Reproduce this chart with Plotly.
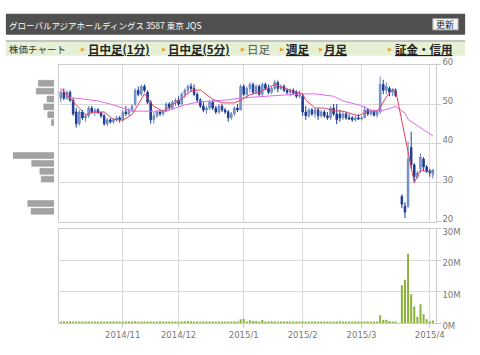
import plotly.graph_objects as go
import pandas as pd

W, H = 480, 355

# ---------------- data ----------------
holidays = ['2014-10-13', '2014-11-03', '2014-11-24', '2014-12-23', '2014-12-31',
            '2015-01-01', '2015-01-02', '2015-01-12', '2015-02-11']
dates = [d.strftime('%Y-%m-%d') for d in pd.bdate_range('2014-10-03', '2015-04-02')
         if d.strftime('%Y-%m-%d') not in holidays]

open_ = [51.5, 53, 51.5, 53, 51, 48, 45, 48, 46.5, 47, 49, 48, 48.5, 47.8, 47, 45, 46, 45.5, 46, 46.5,
         46, 48, 47.5, 48.5, 50, 53.5, 52.5, 54.5, 53, 50.5, 46, 47, 48, 47.5, 48.2, 50, 49, 50.5,
         51, 50, 52.5, 53.5, 54.5, 54, 52.5, 51, 49.5, 48.5, 49, 50.5, 49, 48, 49.5, 48.5, 48, 46.5, 47.5, 49, 48.5,
         54.5, 52.5, 54, 55, 53, 54.5, 52.5, 55, 54, 53, 54, 55.5, 54, 54.5, 53.5, 53, 53.5, 53, 52,
         52, 48, 47, 48.5, 47.5, 48.5, 47, 48, 47, 46.5, 49, 47.5, 47.5, 46.5, 47.5, 46.5, 46.5, 46, 46.5,
         46.2, 46.5, 48.5, 47.5, 48, 47.2, 48, 55, 53.5, 54, 53, 53.5, None,
         26.5, 24, 24, 39, 34.5, 31.5, 33.5, 36, 34, 33, 32]
high = [53.5, 54, 53.5, 53.5, 51.5, 49, 48.5, 48.5, 47.5, 49.5, 49.5, 49, 49, 48, 47.5, 46.5, 46.5, 46.5, 47, 47,
        48.5, 49.5, 49, 50, 54, 54.5, 55, 55, 53.5, 51, 48, 48.5, 48.5, 48.5, 50.5, 50.5, 51, 51.5,
        52, 53, 54, 55, 55.3, 55, 53, 51.5, 50.5, 49.5, 51, 51, 49.5, 50, 50, 49, 48.5, 48, 49.5, 50, 55,
        55, 54.5, 55.5, 55.5, 55, 55, 55.5, 55.5, 55, 54.5, 56.2, 56, 55, 55, 54, 54, 54, 53.5, 53.5,
        52.5, 49.5, 49, 49, 49, 49, 48.5, 48.5, 48, 49.5, 50, 50, 48.5, 48.2, 48, 47.5, 47, 47, 47.5,
        47, 49.5, 49, 48.5, 48.5, 48.5, 57, 56.2, 55.5, 54.5, 54, 54, None,
        27, 25, 40.5, 43, 35, 33, 37.5, 36.5, 34.5, 33.5, 33.5]
low = [50.5, 51, 51, 50.5, 47, 44, 44.5, 46, 45.5, 46.5, 47.5, 47, 47.5, 46.5, 44.5, 44.3, 45, 45, 45.5, 45.3,
       45.5, 47, 47, 48, 49.5, 52, 52, 53, 50, 45, 45, 46.5, 47, 47, 48, 48.5, 48.5, 49.5,
       49.5, 50, 51.5, 52.5, 53, 52, 50.5, 49, 48, 47.5, 48.5, 48.5, 47.5, 47.5, 48, 47.5, 45.5, 46, 47, 48, 48.5,
       52, 51.5, 53, 52.5, 52.5, 52, 52, 53.5, 52.5, 52.5, 53.5, 53, 53.5, 53, 52.5, 52, 52.5, 51.5, 51.5,
       47, 46, 46.5, 47, 46.5, 46, 46.5, 46.5, 46, 46, 47, 44.9, 45.5, 46, 46, 46, 45.5, 45.5, 46,
       45.8, 46.5, 47, 47, 46.8, 46.5, 47.5, 52.5, 52.5, 52, 52, 51.8, None,
       23.5, 21, 23.5, 33.5, 30, 31, 32.5, 33, 32.5, 31.5, 31]
close = [53, 51.5, 53, 51, 47.5, 45, 48, 46.5, 47, 49, 48, 48.5, 47.8, 47, 45, 46, 45.5, 46, 46.5, 46,
         48, 47.5, 48.5, 49.5, 53.5, 52.5, 54.5, 53.5, 50.5, 46, 47, 48, 47.5, 48.2, 50, 49, 50.5, 51,
         50, 52.5, 53.5, 54.5, 54, 52.5, 51, 49.5, 48.5, 49, 50.5, 49, 48, 49.5, 48.5, 48, 46.5, 47.5, 49, 48.5, 54.5,
         52.5, 54, 55, 53, 54.5, 52.5, 55, 54, 53, 54, 55.5, 54, 54.5, 53.5, 53, 53.5, 52.8, 52, 52.5,
         48, 47, 48.5, 47.5, 48.5, 47, 48, 47, 46.5, 49, 47.5, 46, 46.5, 47.5, 46.5, 46.2, 46, 46.5, 46.2,
         46.5, 48.5, 47.5, 48, 47.2, 48, 55, 53.5, 54.5, 53, 53.5, 52.2, None,
         24.5, 22.5, 36, 34.5, 31.5, 32.5, 36.5, 34, 33, 32.5, 33.2]
volume_m = [0.5, 0.6, 0.4, 0.6, 0.5, 0.4, 0.3, 0.3, 0.2, 0.3, 0.2, 0.2, 0.2, 0.2, 0.3, 0.2, 0.2, 0.2, 0.2, 0.2,
            0.3, 0.2, 0.2, 0.3, 0.6, 0.4, 0.5, 0.3, 0.3, 0.5, 0.3, 0.2, 0.2, 0.2, 0.3, 0.2, 0.2, 0.3,
            0.4, 0.5, 0.6, 0.7, 0.5, 0.4, 0.3, 0.3, 0.2, 0.2, 0.3, 0.2, 0.2, 0.2, 0.2, 0.2, 0.3, 0.2, 0.2, 0.5, 1.2,
            1.4, 0.5, 0.9, 0.7, 0.7, 0.4, 1.0, 0.5, 0.5, 0.6, 0.5, 0.4, 0.3, 0.3, 0.3, 0.2, 0.3, 0.3, 0.4,
            0.6, 0.5, 0.4, 0.3, 0.3, 0.3, 0.2, 0.3, 0.2, 0.3, 0.3, 0.5, 0.6, 0.5, 0.3, 0.3, 0.3, 0.3, 0.3,
            0.3, 0.3, 0.3, 0.3, 0.3, 0.4, 2.5, 1.0, 1.1, 0.7, 0.4, 0.3, 0,
            12, 13.8, 22, 9.2, 5.3, 2, 6, 2.8, 1.2, 0.6, 0.8]

ma5_dates = ['2014-10-03', '2014-10-07', '2014-10-16', '2014-10-20', '2014-10-24', '2014-10-29',
             '2014-11-04', '2014-11-07', '2014-11-13', '2014-11-18', '2014-11-21', '2014-11-27',
             '2014-12-02', '2014-12-05', '2014-12-10', '2014-12-16', '2014-12-19', '2014-12-26',
             '2014-12-30', '2015-01-07', '2015-01-13', '2015-01-20', '2015-01-26', '2015-02-02',
             '2015-02-03', '2015-02-06', '2015-02-12', '2015-02-17', '2015-02-20', '2015-02-27',
             '2015-03-04', '2015-03-09', '2015-03-10', '2015-03-12', '2015-03-16', '2015-03-17',
             '2015-03-25', '2015-03-27', '2015-03-31', '2015-04-02']
ma5_vals = [54, 52.3, 47.3, 47.9, 48.0, 46.1, 45.9, 47.3, 52.6, 49.4, 48.2, 49.8, 51.4, 53.4, 53.6,
            51.2, 50.3, 50.3, 51, 52.4, 53, 55, 53.8, 52.6, 51, 49, 49, 48.3, 48.2, 47, 48.2, 48.2,
            49.2, 51.8, 53.8, 53.5, 30, 33.2, 32.8, 32.8]
ma25_dates = ['2014-10-07', '2014-10-17', '2014-10-22', '2014-10-29', '2014-11-07', '2014-11-18',
              '2014-11-25', '2014-12-03', '2014-12-10', '2014-12-22', '2015-01-05', '2015-01-21',
              '2015-02-02', '2015-02-06', '2015-02-17', '2015-02-19', '2015-02-20', '2015-02-27',
              '2015-03-05', '2015-03-10', '2015-03-17', '2015-03-20', '2015-03-23', '2015-04-02']
ma25_vals = [51.8, 51.1, 50.8, 49.8, 48.2, 48.2, 48.2, 49.8, 50.6, 51, 51.6, 52.2, 52.6, 52.6, 52.0,
             51.2, 50.8, 49.8, 48.5, 48.2, 49.4, 47.7, 46.1, 41.9]

profile_price = [22.7, 24.7, 30.9, 32.9, 34.9, 36.9, 45.3, 47.3, 49.3, 51.3, 53.3, 55.3]
profile_vol = [14, 16, 7.8, 8.6, 13.6, 25, 1.6, 3.8, 6.2, 4.2, 10.8, 9.6]

month_dates = ['2014-11-04', '2014-12-01', '2015-01-05', '2015-02-02', '2015-03-02', '2015-04-01']
month_labels = ['2014/11', '2014/12', '2015/1', '2015/2', '2015/3', '2015/4']

price_ticks = [20, 30, 40, 50, 60]
vol_ticks = [0, 10, 20, 30]
vol_tick_labels = ['0M', '10M', '20M', '30M']

title = 'グローバルアジアホールディングス 3587 東京 JQS'
nav_items = ['日中足(1分)', '日中足(5分)', '日足', '週足', '月足', '証金・信用']

# ---------------- helpers ----------------
pos = {d: i for i, d in enumerate(dates)}
xi = list(range(len(dates)))


def px(x):
    return x / W


def py(y):
    return 1 - y / H


GRID = '#dadada'
LINE = '#cccccc'
TICKFONT = dict(family='DejaVu Sans', size=8.5, color='#777777')
JP = 'Noto Sans CJK JP'

fig = go.Figure()

fig.add_trace(go.Candlestick(
    x=xi, open=open_, high=high, low=low, close=close, xaxis='x', yaxis='y',
    increasing=dict(line=dict(color='#6887c2', width=1), fillcolor='#8ea8d6'),
    decreasing=dict(line=dict(color='#1d3c93', width=1), fillcolor='#1d3c93'),
    whiskerwidth=0, showlegend=False, hoverinfo='skip'))

fig.add_trace(go.Scatter(x=[pos[d] for d in ma25_dates], y=ma25_vals, mode='lines',
                         line=dict(color='#e06aee', width=1), xaxis='x', yaxis='y',
                         showlegend=False, hoverinfo='skip'))
fig.add_trace(go.Scatter(x=[pos[d] for d in ma5_dates], y=ma5_vals, mode='lines',
                         line=dict(color='#e5405f', width=1), xaxis='x', yaxis='y',
                         showlegend=False, hoverinfo='skip'))

fig.add_trace(go.Bar(x=xi, y=[v * 1e6 for v in volume_m], xaxis='x2', yaxis='y2',
                     marker=dict(color='#8ab33a', line_width=0), showlegend=False,
                     hoverinfo='skip'))

fig.add_trace(go.Bar(x=profile_vol, y=profile_price, orientation='h', width=1.5,
                     xaxis='x3', yaxis='y4',
                     marker=dict(color='#a3a3a3', line=dict(color='#979797', width=0.5)),
                     showlegend=False, hoverinfo='skip'))

xdom = [px(60), px(444)]
xrange_ = [-0.6, len(dates) - 0.1]
tickv = [pos[d] for d in month_dates]

fig.update_layout(
    width=W, height=H, margin=dict(l=0, r=0, t=0, b=0),
    paper_bgcolor='white', plot_bgcolor='white', bargap=0.35,
    xaxis=dict(domain=xdom, range=xrange_, anchor='y', tickvals=tickv, showticklabels=False,
               showgrid=True, gridcolor=GRID, gridwidth=1, showline=True, linecolor=LINE,
               mirror=True, zeroline=False, rangeslider=dict(visible=False), ticks=''),
    yaxis=dict(domain=[py(224), py(59.5)], range=[20, 60], anchor='x', side='right',
               tickvals=price_ticks, showgrid=True, gridcolor=GRID, ticks='outside', ticklen=4,
               tickcolor=LINE, tickfont=TICKFONT, showline=True, linecolor=LINE, mirror=True,
               zeroline=False, ticklabelshift=-3),
    xaxis2=dict(domain=xdom, range=xrange_, anchor='y2', tickvals=tickv, ticktext=month_labels,
                showgrid=True, gridcolor=GRID, showline=True, linecolor=LINE, mirror=True,
                zeroline=False, ticks='outside', ticklen=4, tickcolor=LINE, tickfont=TICKFONT),
    yaxis2=dict(domain=[py(330), py(231)], range=[0, 30e6], anchor='x2', side='right',
                tickvals=[v * 1e6 for v in vol_ticks], ticktext=vol_tick_labels, showgrid=True,
                gridcolor=GRID, ticks='outside', ticklen=4, tickcolor=LINE, tickfont=TICKFONT,
                showline=True, linecolor=LINE, mirror=True, zeroline=False, ticklabelshift=3),
    xaxis3=dict(domain=[px(13), px(55)], range=[25.2, 0], anchor='y4', visible=False),
    yaxis4=dict(domain=[py(224), py(59.5)], range=[20, 60], anchor='x3', visible=False),
)

shapes = [
    dict(type='rect', xref='paper', yref='paper', x0=px(6), x1=px(474), y0=py(28), y1=py(6),
         fillcolor='#505050', line=dict(width=0), layer='below'),
    dict(type='rect', xref='paper', yref='paper', x0=px(441), x1=px(467), y0=py(23), y1=py(11),
         fillcolor='#f4f4f4', line=dict(color='#999999', width=1)),
    dict(type='rect', xref='paper', yref='paper', x0=px(6), x1=px(474), y0=py(50), y1=py(35),
         fillcolor='#e6f0d5', line=dict(width=0), layer='below'),
    dict(type='line', xref='paper', yref='paper', x0=px(6), x1=px(474), y0=py(34.5), y1=py(34.5),
         line=dict(color='#c4c4c4', width=2)),
]

annotations = [
    dict(text=title, x=px(7), y=py(17.5), xref='paper', yref='paper', xanchor='left',
         yanchor='middle', showarrow=False, font=dict(family=JP, size=8.5, color='white')),
    dict(text='更新', x=px(454), y=py(17), xref='paper', yref='paper', xanchor='center',
         yanchor='middle', showarrow=False, font=dict(family=JP, size=9, color='#222222')),
    dict(text='株価チャート', x=px(7), y=py(42.5), xref='paper', yref='paper', xanchor='left',
         yanchor='middle', showarrow=False, font=dict(family=JP, size=9.5, color='#333333')),
]

nav_x = [88, 169, 250, 289, 328, 400]
arrow_x = [81, 163, 244, 283, 323, 393]
for name, xx, ax in zip(nav_items, nav_x, arrow_x):
    annotations.append(dict(text='▶', x=px(ax), y=py(42.5), xref='paper', yref='paper',
                            xanchor='left', yanchor='middle', showarrow=False,
                            font=dict(family='DejaVu Sans', size=5.5, color='#f0a020')))
    plain = (name == '日足')
    annotations.append(dict(text=name if plain else '<b>' + name + '</b>', x=px(xx), y=py(42.5),
                            xref='paper', yref='paper', xanchor='left', yanchor='middle',
                            showarrow=False,
                            font=dict(family=JP, size=11.5,
                                      color='#555555' if plain else '#222222',
                                      lineposition='none' if plain else 'under')))

fig.update_layout(shapes=shapes, annotations=annotations)
fig.write_html('out.html')
